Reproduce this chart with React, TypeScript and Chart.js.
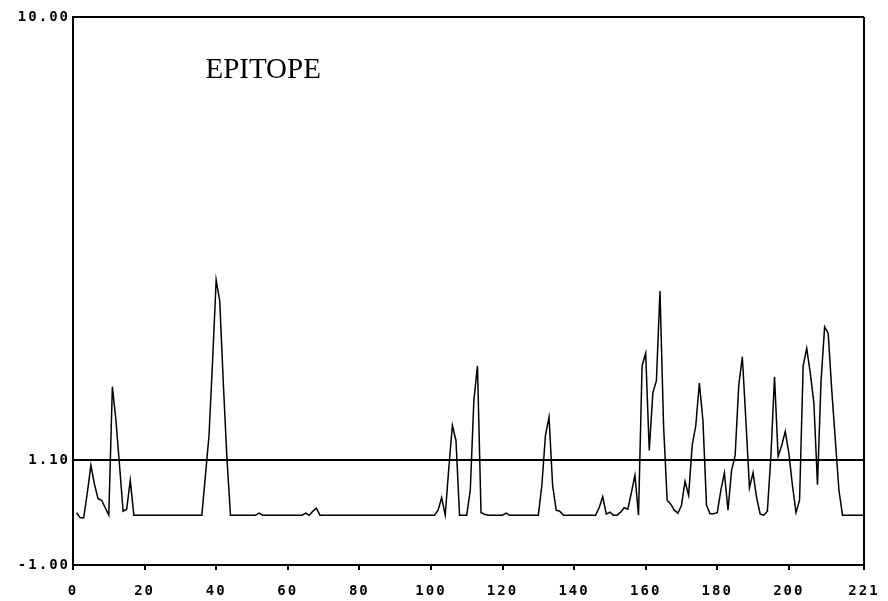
import React, { useEffect, useRef } from 'react';
import { Chart, registerables } from 'chart.js';

Chart.register(...registerables);

// Epitope score per residue (residues 1..221)
const epitopeScores: number[] = [
  0.05, -0.05, -0.05, 0.45, 1.0, 0.62, 0.33, 0.3, 0.15, 0.0,
  2.58, 1.9, 1.0, 0.08, 0.12, 0.7, 0, 0, 0, 0,
  0, 0, 0, 0, 0, 0, 0, 0, 0, 0,
  0, 0, 0, 0, 0, 0, 0.8, 1.6, 3.1, 4.72,
  4.3, 2.65, 1.15, 0, 0, 0, 0, 0, 0, 0,
  0, 0.04, 0, 0, 0, 0, 0, 0, 0, 0,
  0, 0, 0, 0, 0.04, 0, 0.08, 0.14, 0, 0,
  0, 0, 0, 0, 0, 0, 0, 0, 0, 0,
  0, 0, 0, 0, 0, 0, 0, 0, 0, 0,
  0, 0, 0, 0, 0, 0, 0, 0, 0, 0,
  0, 0.1, 0.35, 0, 0.95, 1.8, 1.5, 0, 0, 0,
  0.5, 2.3, 3.0, 0.05, 0.02, 0, 0, 0, 0, 0,
  0.04, 0, 0, 0, 0, 0, 0, 0, 0, 0,
  0.6, 1.6, 1.97, 0.6, 0.1, 0.08, 0, 0, 0, 0,
  0, 0, 0, 0, 0, 0, 0.15, 0.37, 0.02, 0.06,
  0, 0, 0.06, 0.15, 0.12, 0.45, 0.8, 0, 3.0, 3.25,
  1.3, 2.45, 2.7, 4.5, 1.8, 0.3, 0.22, 0.1, 0.04, 0.2,
  0.68, 0.4, 1.4, 1.8, 2.65, 1.9, 0.2, 0.03, 0.03, 0.05,
  0.5, 0.85, 0.1, 0.9, 1.2, 2.6, 3.18, 1.9, 0.55, 0.85,
  0.35, 0.02, 0, 0.08, 1.2, 2.78, 1.18, 1.4, 1.68, 1.25,
  0.6, 0.05, 0.3, 3.0, 3.35, 2.85, 2.25, 0.61, 2.7, 3.78,
  3.65, 2.5, 1.5, 0.5, 0, 0, 0, 0, 0, 0,
  0,
];

const residueNumbers: number[] = epitopeScores.map((_, i) => i + 1);

const xTickValues: number[] = [0, 20, 40, 60, 80, 100, 120, 140, 160, 180, 200, 221];
const yTickValues: number[] = [-1, 1.1, 10];
const thresholdValue = 1.1;
const titleText = 'EPITOPE';
const titleAnchor = { x: 37, y: 8.78 };

const tickFont = { family: '"DejaVu Sans Mono", "Liberation Mono", monospace', weight: 'bold' as const, size: 14 };

const epitopePlugin = {
  id: 'epitopeDecor',
  beforeUpdate(chart: any) {
    chart.ctx.letterSpacing = '2px';
  },
  beforeDraw(chart: any) {
    chart.ctx.letterSpacing = '2px';
  },
  afterDraw(chart: any) {
    const ctx = chart.ctx;
    ctx.save();
    ctx.letterSpacing = '0px';
    ctx.font = '29px "Liberation Serif", "Times New Roman", serif';
    ctx.fillStyle = '#000';
    ctx.textAlign = 'left';
    ctx.textBaseline = 'alphabetic';
    ctx.fillText(titleText, chart.scales.x.getPixelForValue(titleAnchor.x), chart.scales.y.getPixelForValue(titleAnchor.y));
    ctx.restore();
  },
};

export default function App() {
  const canvasRef = useRef<HTMLCanvasElement | null>(null);

  useEffect(() => {
    if (!canvasRef.current) return;
    const chart = new Chart(canvasRef.current, {
      type: 'line',
      data: {
        datasets: [
          {
            label: 'Epitope',
            data: residueNumbers.map((x, i) => ({ x, y: epitopeScores[i] })),
            borderColor: '#000',
            borderWidth: 1.5,
            pointRadius: 0,
            tension: 0,
            fill: false,
          },
        ],
      },
      options: {
        animation: false,
        responsive: true,
        maintainAspectRatio: false,
        layout: { padding: { left: 0, top: 17, right: 24, bottom: 0 } },
        plugins: {
          legend: { display: false },
          tooltip: { enabled: false },
          title: { display: false },
        },
        scales: {
          x: {
            type: 'linear',
            min: 0,
            max: 221,
            afterBuildTicks: (s: any) => {
              s.ticks = xTickValues.map((v) => ({ value: v }));
            },
            afterFit: (s: any) => {
              s.height = 36;
              s.paddingLeft = 0;
              s.paddingRight = 0;
            },
            ticks: {
              autoSkip: false,
              maxRotation: 0,
              minRotation: 0,
              color: '#000',
              font: tickFont,
              padding: 13,
              callback: (v: any) => String(v),
            },
            grid: {
              color: (c: any) => (c.tick && c.tick.value === 221 ? '#000' : 'rgba(0,0,0,0)'),
              tickColor: '#000',
              tickLength: 5,
              lineWidth: 2,
              drawTicks: true,
            },
            border: { color: '#000', width: 2 },
          },
          y: {
            type: 'linear',
            min: -1,
            max: 10,
            afterBuildTicks: (s: any) => {
              s.ticks = yTickValues.map((v) => ({ value: v }));
            },
            afterFit: (s: any) => {
              s.width = 73;
              s.paddingTop = 0;
              s.paddingBottom = 0;
            },
            ticks: {
              color: '#000',
              font: tickFont,
              padding: 3,
              callback: (v: any) => Number(v).toFixed(2),
            },
            grid: {
              color: (c: any) =>
                c.tick && (c.tick.value === thresholdValue || c.tick.value === 10) ? '#000' : 'rgba(0,0,0,0)',
              lineWidth: 2,
              drawTicks: false,
            },
            border: { color: '#000', width: 2 },
          },
        },
      },
      plugins: [epitopePlugin],
    } as any);
    return () => chart.destroy();
  }, []);

  return (
    <div style={{ position: 'absolute', left: 0, top: 0, width: 888, height: 601, background: '#fff' }}>
      <canvas ref={canvasRef} />
    </div>
  );
}
